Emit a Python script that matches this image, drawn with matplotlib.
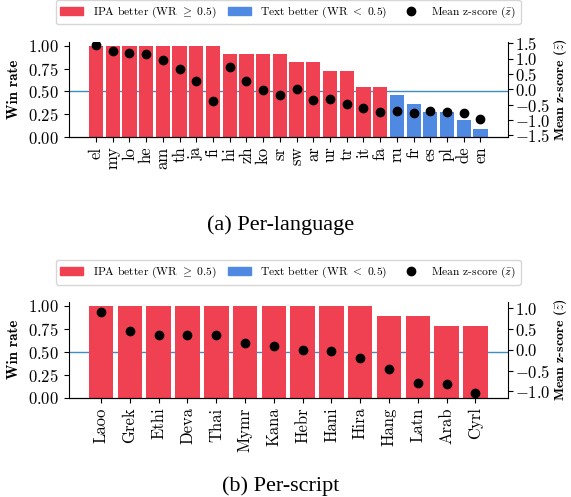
import matplotlib
matplotlib.use('Agg')
import matplotlib.pyplot as plt
from matplotlib.patches import Patch
from matplotlib.lines import Line2D
import numpy as np

plt.rcParams['font.family'] = 'cmr10'
plt.rcParams['mathtext.fontset'] = 'cm'
plt.rcParams['axes.formatter.use_mathtext'] = True

# 言語ごとの勝率と平均zスコア
langs = ['el', 'my', 'lo', 'he', 'am', 'th', 'ja', 'fi', 'hi', 'zh', 'ko', 'sr',
         'sw', 'ar', 'ur', 'tr', 'it', 'fa', 'ru', 'fr', 'es', 'pl', 'de', 'en']
lang_wr = [1.0, 1.0, 1.0, 1.0, 1.0, 1.0, 1.0, 1.0, 0.909, 0.909, 0.909, 0.909,
           0.818, 0.818, 0.727, 0.727, 0.545, 0.545, 0.455, 0.364, 0.273, 0.273, 0.182, 0.091]
lang_z = [1.43, 1.23, 1.19, 1.14, 0.95, 0.66, 0.26, -0.39, 0.72, 0.28, -0.02, -0.20,
          0.01, -0.35, -0.33, -0.49, -0.62, -0.74, -0.70, -0.76, -0.71, -0.73, -0.77, -0.97]

# 文字体系ごと
scripts = ['Laoo', 'Grek', 'Ethi', 'Deva', 'Thai', 'Mymr', 'Kana', 'Hebr', 'Hani',
           'Hira', 'Hang', 'Latn', 'Arab', 'Cyrl']
script_wr = [1.0, 1.0, 1.0, 1.0, 1.0, 1.0, 1.0, 1.0, 1.0, 1.0, 0.889, 0.889, 0.778, 0.778]
script_z = [0.91, 0.46, 0.36, 0.36, 0.35, 0.17, 0.08, 0.0, -0.02, -0.21, -0.46, -0.79, -0.83, -1.04]

RED = '#EF4152'
BLUE = '#4F89E1'


def panel(ax, names, wr, z, zlim, zticks):
    x = np.arange(len(names))
    colors = [RED if w >= 0.5 else BLUE for w in wr]
    ax.bar(x, wr, width=0.85, color=colors, zorder=2)
    ax.axhline(0.5, color='#3d8cc4', lw=1, zorder=1)
    ax.set_ylim(0, 1.045)
    ax.set_yticks([0, 0.25, 0.5, 0.75, 1.0])
    ax.set_xticks(x)
    ax.set_xticklabels(names, rotation=90, fontsize=12)
    ax.tick_params(axis='y', labelsize=12)
    ax.set_ylabel('Win rate', fontfamily='cmb10', fontsize=10.8, labelpad=5)
    ax.spines['top'].set_visible(False)
    ax.spines['right'].set_visible(False)

    ax2 = ax.twinx()
    ax2.plot(x, z, 'o', color='black', ms=6, zorder=3)
    ax2.set_ylim(-zlim, zlim)
    ax2.set_yticks(zticks)
    ax2.tick_params(axis='y', labelsize=12, pad=2)
    ax2.set_ylabel(r'Mean z-score ($\bar{z}$)', fontfamily='cmb10', fontsize=10,
                   labelpad=1)
    ax2.spines['top'].set_visible(False)
    ax2.spines['left'].set_visible(False)

    handles = [Patch(color=RED, label=r'IPA better (WR $\geq$ 0.5)'),
               Patch(color=BLUE, label=r'Text better (WR $<$ 0.5)'),
               Line2D([], [], marker='o', ls='', color='black', ms=6,
                      label=r'Mean z-score ($\bar{z}$)')]
    ax.legend(handles=handles, loc='lower center', bbox_to_anchor=(0.5, 1.18),
              ncol=3, fontsize=8.3, frameon=True, borderaxespad=0, columnspacing=1.0)


fig = plt.figure(figsize=(5.71, 4.97), dpi=100)
ax_a = fig.add_axes([0.1208, 0.7243, 0.768, 0.192])
ax_b = fig.add_axes([0.1208, 0.1998, 0.768, 0.193])

panel(ax_a, langs, lang_wr, lang_z, 1.55, [-1.5, -1.0, -0.5, 0.0, 0.5, 1.0, 1.5])
panel(ax_b, scripts, script_wr, script_z, 1.15, [-1.0, -0.5, 0.0, 0.5, 1.0])

fig.text(0.492, 1 - 225 / 497, '(a) Per-language', ha='center', va='center',
         fontfamily='Liberation Serif', fontsize=16)
fig.text(0.492, 1 - 486 / 497, '(b) Per-script', ha='center', va='center',
         fontfamily='Liberation Serif', fontsize=16)

fig.savefig('out.png', dpi=100)
